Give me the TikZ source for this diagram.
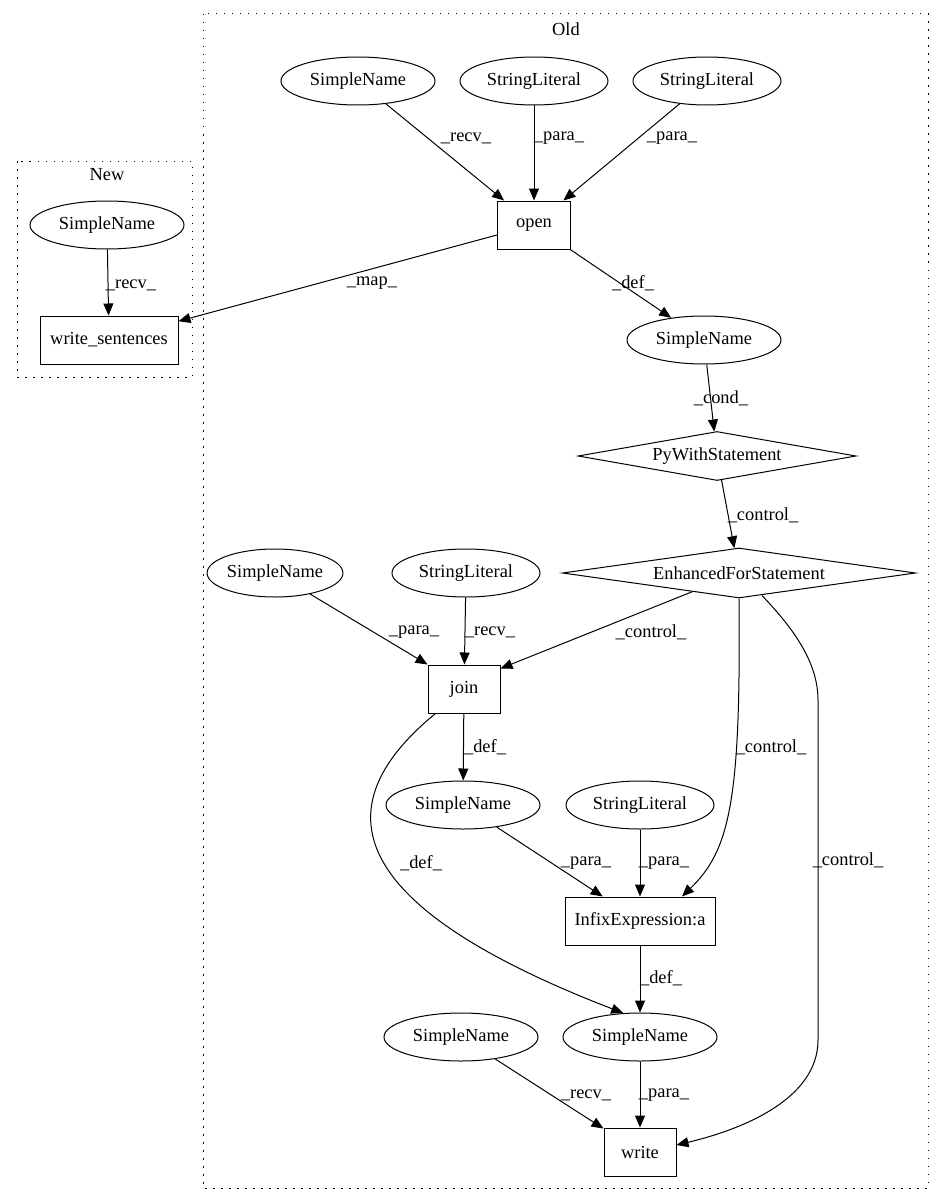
\documentclass[tikz,border=0pt]{standalone}
\usepackage{fontspec}
\setmainfont{Liberation Serif}
\usetikzlibrary{arrows.meta,shapes.geometric}
\begin{document}
\begin{tikzpicture}[x=1pt,y=-1pt,
  font=\fontsize{18.4}{21}\selectfont,
  every path/.style={line width=1pt},
  ell/.style={ellipse, draw, line width=1pt, inner sep=0pt, minimum height=48pt},
  box/.style={rectangle, draw, line width=1pt, inner sep=0pt, minimum height=48pt},
  dia/.style={diamond, draw, line width=1pt, inner sep=0pt, shape aspect=7},
  arr/.style={draw, -{Triangle[length=12pt,width=10pt]}},
  lbl/.style={inner sep=0pt},
  cluster/.style={draw, line width=1pt, dash pattern=on 1.5pt off 6.5pt}]
\path[use as bounding box] (0,0) rectangle (941,1204);

% clusters
\draw[cluster] (203,14) rectangle (928,1188);
\node[lbl] (oldlbl) at (566,29) {Old};
\draw[cluster] (17,161) rectangle (192,377);
\node[lbl] (newlbl) at (107,175) {New};

% New
\node[ell, minimum width=154pt] (nsn) at (107,225) {SimpleName};
\node[box, minimum width=138pt] (ws) at (109,340) {write\_sentences};

% Old
\node[ell, minimum width=154pt] (sn1) at (358,81) {SimpleName};
\node[ell, minimum width=148pt] (sl1) at (534,81) {StringLiteral};
\node[ell, minimum width=148pt] (sl2) at (707,81) {StringLiteral};
\node[box, minimum width=73pt] (open) at (534,225) {open};
\node[ell, minimum width=154pt] (sn2) at (704,340) {SimpleName};
\node[dia, minimum width=278pt, minimum height=49pt] (pyw) at (717,456) {PyWithStatement};
\node[dia, minimum width=353pt, minimum height=50pt] (efs) at (739,573) {EnhancedForStatement};
\node[ell, minimum width=130pt] (sn3) at (275,573) {SimpleName};
\node[ell, minimum width=148pt] (sl3) at (466,573) {StringLiteral};
\node[box, minimum width=72pt] (join) at (464,689) {join};
\node[ell, minimum width=154pt] (sn4) at (463,805) {SimpleName};
\node[ell, minimum width=148pt] (sl4) at (640,805) {StringLiteral};
\node[box, minimum width=150pt] (infix) at (640,921) {InfixExpression:a};
\node[ell, minimum width=154pt] (snc) at (640,1037) {SimpleName};
\node[ell, minimum width=154pt] (snl) at (461,1037) {SimpleName};
\node[box, minimum width=72pt] (write) at (640,1152) {write};

% edges
\draw[arr] (nsn) -- (ws);
\node[lbl] (l1) at (131,285) {\_recv\_};

\draw[arr] (sn1) -- (open);
\node[lbl] (l2) at (466,138) {\_recv\_};
\draw[arr] (sl1) -- (open);
\node[lbl] (l3) at (559,138) {\_para\_};
\draw[arr] (sl2) -- (open);
\node[lbl] (l4) at (672,138) {\_para\_};

\draw[arr] (open) -- (ws);
\node[lbl] (l5) at (372,283) {\_map\_};
\draw[arr] (open) -- (sn2);
\node[lbl] (l6) at (633,283) {\_def\_};

\draw[arr] (sn2) -- (pyw);
\node[lbl] (l7) at (721,398) {\_cond\_};
\draw[arr] (pyw) -- (efs);
\node[lbl] (l8) at (763,515) {\_control\_};

\draw[arr] (sn3) -- (join.north west);
\node[lbl] (l9) at (414,632) {\_para\_};
\draw[arr] (sl3) -- (join);
\node[lbl] (l10) at (490,632) {\_recv\_};
\draw[arr] (efs) -- ([yshift=-4pt]join.north east);
\node[lbl] (l11) at (651,632) {\_control\_};

\draw[arr] (efs.south) .. controls (741,800) and (730,850) .. ([xshift=42pt]infix.north);
\node[lbl] (l12) at (771,747) {\_control\_};

\draw[arr] ([xshift=23pt,yshift=3pt]efs.south) .. controls (790,625) and (818,660) .. (818,700)
  -- (818,1040) .. controls (818,1100) and (740,1130) .. ([yshift=7pt]write.east);
\node[lbl] (l13) at (848,860) {\_control\_};

\draw[arr] (join) -- (sn4);
\node[lbl] (l14) at (485,747) {\_def\_};
\draw[arr] ([xshift=8pt]join.south west) .. controls (330,800) and (330,900) .. (snc.125);
\node[lbl] (l15) at (421,863) {\_def\_};

\draw[arr] (sn4) -- (infix);
\node[lbl] (l16) at (586,863) {\_para\_};
\draw[arr] (sl4) -- (infix);
\node[lbl] (l17) at (664,863) {\_para\_};
\draw[arr] (infix) -- (snc);
\node[lbl] (l18) at (661,978) {\_def\_};

\draw[arr] (snl) -- (write);
\node[lbl] (l19) at (586,1095) {\_recv\_};
\draw[arr] (snc) -- (write);
\node[lbl] (l20) at (664,1095) {\_para\_};
\end{tikzpicture}
\end{document}
